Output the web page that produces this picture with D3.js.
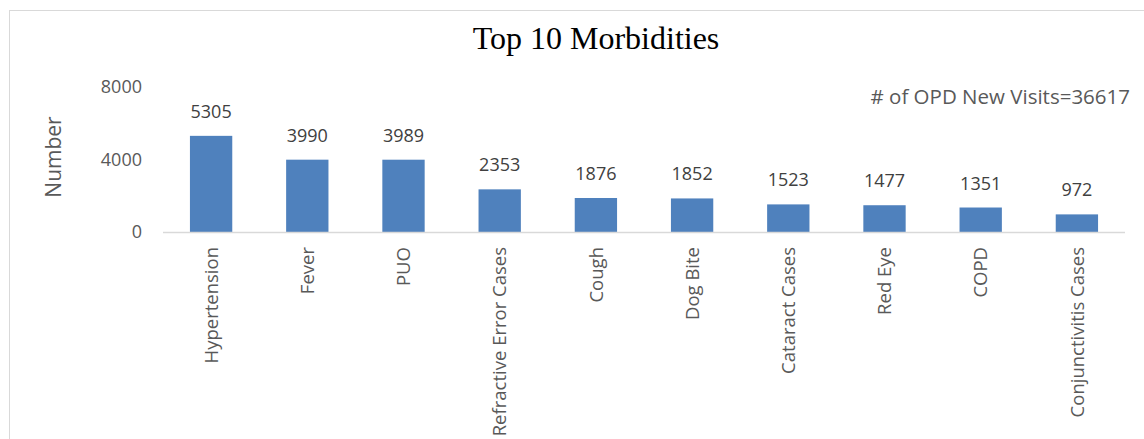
<!DOCTYPE html>
<html>
<head>
<meta charset="utf-8">
<script src="https://cdn.jsdelivr.net/npm/d3@7"></script>
<style>
  body { margin: 0; background: #fff; }
  svg { display: block; }
</style>
</head>
<body>
<div id="chart"></div>
<script>
// data
var categories = ["Hypertension", "Fever", "PUO", "Refractive Error Cases", "Cough",
                  "Dog Bite", "Cataract Cases", "Red Eye", "COPD", "Conjunctivitis Cases"];
var counts = [5305, 3990, 3989, 2353, 1876, 1852, 1523, 1477, 1351, 972];
var yTicks = [0, 4000, 8000];
var chartTitle = "Top 10 Morbidities";
var yTitle = "Number";
var note = "# of OPD New Visits=36617";

var W = 1144, H = 439;
var textColor = "#595959";
var font = "'Open Sans', 'DejaVu Sans', sans-serif";

var svg = d3.select("#chart").append("svg")
  .attr("width", W)
  .attr("height", H);

// chart frame (right/bottom edges fall outside the picture)
svg.append("rect")
  .attr("x", 9.5).attr("y", 10.5)
  .attr("width", 1300).attr("height", 600)
  .attr("fill", "#fff")
  .attr("stroke", "#d9d9d9");

var x = d3.scaleBand()
  .domain(categories)
  .range([163, 1125])
  .paddingInner(0.56)
  .paddingOuter(0.28);

var y = d3.scaleLinear()
  .domain([0, 8000])
  .range([232, 87]);

// title
svg.append("text")
  .attr("x", 596).attr("y", 49)
  .attr("text-anchor", "middle")
  .style("font-family", "'Liberation Serif', 'Times New Roman', serif")
  .style("font-size", "32px")
  .style("fill", "#000")
  .text(chartTitle);

// y tick labels
svg.selectAll(".ytick")
  .data(yTicks).enter()
  .append("text")
  .attr("class", "ytick")
  .attr("x", 142)
  .attr("y", function(d) { return y(d); })
  .attr("dy", "0.36em")
  .attr("text-anchor", "end")
  .style("font-family", font)
  .style("font-size", "18px")
  .style("fill", textColor)
  .text(function(d) { return d; });

// y axis title
svg.append("text")
  .attr("transform", "translate(53,157) rotate(-90)")
  .attr("text-anchor", "middle")
  .attr("dy", "0.36em")
  .style("font-family", font)
  .style("font-size", "21px")
  .style("fill", textColor)
  .text(yTitle);

// bars
svg.selectAll(".bar")
  .data(counts).enter()
  .append("rect")
  .attr("class", "bar")
  .attr("x", function(d, i) { return x(categories[i]); })
  .attr("width", x.bandwidth())
  .attr("y", function(d) { return y(d); })
  .attr("height", function(d) { return y(0) - y(d); })
  .attr("fill", "#4f81bd");

// baseline
svg.append("line")
  .attr("x1", 163).attr("x2", 1125)
  .attr("y1", y(0) + 0.5).attr("y2", y(0) + 0.5)
  .attr("stroke", "#d9d9d9")
  .attr("stroke-width", 1.5);

// value labels
svg.selectAll(".val")
  .data(counts).enter()
  .append("text")
  .attr("class", "val")
  .attr("x", function(d, i) { return x(categories[i]) + x.bandwidth() / 2; })
  .attr("y", function(d) { return y(d) - 18; })
  .attr("text-anchor", "middle")
  .style("font-family", font)
  .style("font-size", "18px")
  .style("fill", "#404040")
  .text(function(d) { return d; });

// category labels, rotated
svg.selectAll(".cat")
  .data(categories).enter()
  .append("text")
  .attr("class", "cat")
  .attr("transform", function(d) {
    return "translate(" + (x(d) + x.bandwidth() / 2) + ",247) rotate(-90)";
  })
  .attr("dy", "0.36em")
  .attr("text-anchor", "end")
  .style("font-family", font)
  .style("font-size", "18.5px")
  .style("fill", textColor)
  .text(function(d) { return d; });

// note in upper right
svg.append("text")
  .attr("x", 1130).attr("y", 97)
  .attr("dy", "0.36em")
  .attr("text-anchor", "end")
  .style("font-family", font)
  .style("font-size", "20.5px")
  .style("fill", textColor)
  .text(note);
</script>
</body>
</html>
